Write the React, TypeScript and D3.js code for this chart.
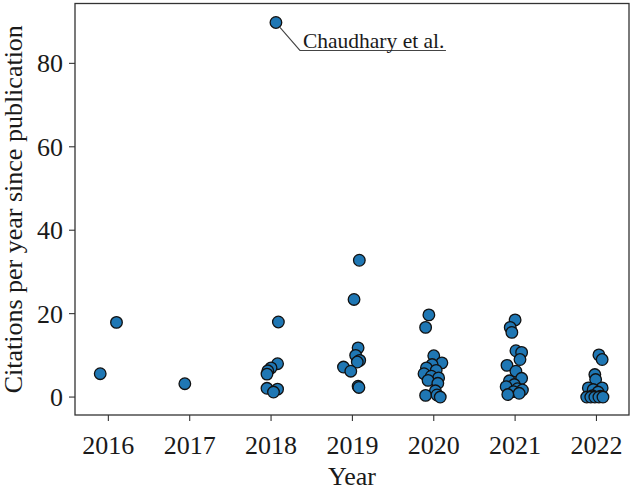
import React from 'react';
import * as d3 from 'd3';

// tick labels
const yearTicks = [2016, 2017, 2018, 2019, 2020, 2021, 2022];
const citeTicks = [0, 20, 40, 60, 80];

// jittered publication year (x) and citations per year (y)
const x2016 = [2015.9, 2016.1];
const y2016 = [5.6, 17.9];
const x2017 = [2016.94];
const y2017 = [3.2];
const x2018 = [2018.06, 2018.09, 2018.08, 2018.0, 2017.96, 2017.95, 2017.95, 2018.08, 2018.03];
const y2018 = [89.8, 18.0, 8.0, 7.0, 6.3, 5.5, 2.1, 1.9, 1.2];
const x2019 = [2019.085, 2019.02, 2019.07, 2019.04, 2019.09, 2019.06, 2018.89, 2018.98, 2019.07, 2019.08];
const y2019 = [32.8, 23.4, 11.8, 10.0, 8.8, 8.4, 7.2, 6.2, 2.6, 2.3];
const x2020 = [2019.94, 2019.9, 2020.0, 2020.1, 2019.98, 2019.91, 2020.03, 2019.88, 2019.97, 2020.06, 2019.93, 2020.05, 2020.02, 2019.9, 2020.04, 2020.08];
const y2020 = [19.7, 16.7, 9.9, 8.2, 7.8, 7.0, 6.4, 5.6, 5.0, 4.6, 4.0, 3.3, 1.5, 0.4, 0.5, 0.0];
const x2021 = [2021.0, 2020.94, 2020.96, 2021.01, 2021.08, 2021.06, 2020.9, 2021.01, 2021.08, 2020.93, 2020.99, 2020.89, 2021.03, 2021.09, 2020.98, 2021.05, 2020.91];
const y2021 = [18.5, 16.7, 15.5, 11.1, 10.7, 9.0, 7.6, 6.2, 4.5, 3.9, 3.0, 2.5, 2.0, 1.7, 1.3, 0.9, 0.6];
const x2022 = [2022.03, 2022.07, 2021.98, 2021.99, 2021.9, 2022.07, 2021.96, 2022.02, 2021.95, 2022.05, 2021.88, 2021.93, 2021.98, 2022.03, 2022.08];
const y2022 = [10.1, 9.0, 5.4, 4.2, 2.2, 2.2, 1.8, 1.2, 0.3, 0.2, 0.0, 0.0, 0.0, 0.0, 0.0];

const annotationText = 'Chaudhary et al.';

const W = 633;
const H = 491;
const m = { left: 75, right: 629, top: 3.5, bottom: 415 };
const font = '"Liberation Serif", "Times New Roman", serif';
const ink = '#1a1a1a';

export default function App() {
  const x = d3.scaleLinear().domain([2015.59, 2022.4]).range([m.left, m.right]);
  const y = d3.scaleLinear().domain([-4.3, 94.35]).range([m.bottom, m.top]);

  const xs = [x2016, x2017, x2018, x2019, x2020, x2021, x2022].flat();
  const ys = [y2016, y2017, y2018, y2019, y2020, y2021, y2022].flat();
  const pts = xs.map((v, i) => ({ x: v, y: ys[i] }));

  // outlier with the label
  const top = pts[3];
  const px = x(top.x);
  const py = y(top.y);

  return (
    <svg width={W} height={H} style={{ position: 'absolute', left: 0, top: 0, background: '#fff' }}>
      {pts.map((d, i) => (
        <circle key={i} cx={x(d.x)} cy={y(d.y)} r={5.8} fill="#1f77b4" stroke="#111" strokeWidth={1.3} />
      ))}

      {/* annotation */}
      <polyline
        points={`${px + 4},${py + 5} ${px + 24},${py + 28} ${px + 170},${py + 28}`}
        fill="none"
        stroke="#444"
        strokeWidth={1.1}
      />
      <text x={px + 27} y={py + 26} fontFamily={font} fontSize={21.5} fill={ink}>
        {annotationText}
      </text>

      {/* frame */}
      <rect x={m.left} y={m.top} width={m.right - m.left} height={m.bottom - m.top} fill="none" stroke="#333" strokeWidth={1.3} />

      {/* x ticks */}
      {yearTicks.map((t) => (
        <g key={t} transform={`translate(${x(t)},${m.bottom})`}>
          <line y2={6} stroke="#333" strokeWidth={1.1} />
          <text y={39} textAnchor="middle" fontFamily={font} fontSize={26} fill={ink}>
            {t}
          </text>
        </g>
      ))}

      {/* y ticks */}
      {citeTicks.map((t) => (
        <g key={t} transform={`translate(${m.left},${y(t)})`}>
          <line x2={-6} stroke="#333" strokeWidth={1.1} />
          <text x={-12} dy="0.35em" textAnchor="end" fontFamily={font} fontSize={26} fill={ink}>
            {t}
          </text>
        </g>
      ))}

      <text x={(m.left + m.right) / 2} y={485} textAnchor="middle" fontFamily={font} fontSize={26} fill={ink}>
        Year
      </text>
      <text
        transform={`translate(22,${(m.top + m.bottom) / 2}) rotate(-90)`}
        textAnchor="middle"
        fontFamily={font}
        fontSize={26}
        fill={ink}
      >
        Citations per year since publication
      </text>
    </svg>
  );
}
